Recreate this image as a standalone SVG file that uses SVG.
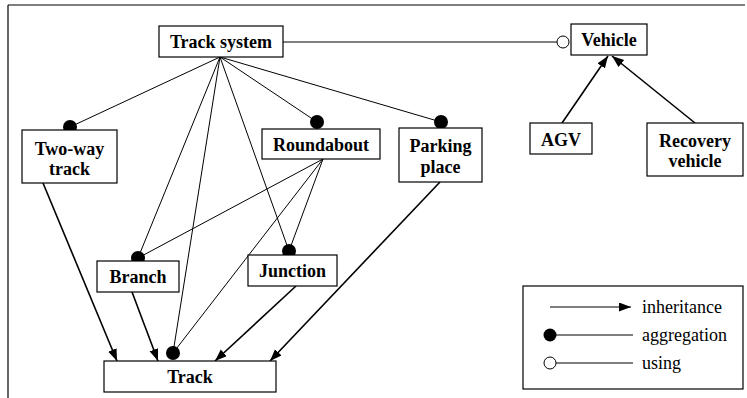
<svg xmlns="http://www.w3.org/2000/svg" width="747" height="398" viewBox="0 0 747 398">
<style>
.box{fill:#fff;stroke:#000;stroke-width:1.2}
text{font-family:'Liberation Serif','Times New Roman',Times,'DejaVu Serif',serif}
.lbl{font-weight:bold;font-size:18px;text-anchor:middle;fill:#000}
.leg{font-size:18px;fill:#000}
.agg{stroke:#000;stroke-width:1;fill:none}
.inh{stroke:#000;stroke-width:1.6;fill:none;marker-end:url(#arr)}
.dot{fill:#000}
.ring{fill:#fff;stroke:#000;stroke-width:1}
</style>
<defs>
<marker id="arr" markerUnits="userSpaceOnUse" markerWidth="13" markerHeight="10" refX="12" refY="4.5" orient="auto">
<path d="M0,0 L12,4.5 L0,9 z" fill="#000"/>
</marker>
</defs>
<rect width="747" height="398" fill="#fff"/>
<g id="frame" stroke="#000" stroke-width="1.2">
<line x1="8" y1="5" x2="745" y2="5"/>
<line x1="8" y1="5" x2="8" y2="398"/>
</g>
<g id="connectors">
<line class="agg" x1="283" y1="42" x2="557" y2="42"/>
<line class="agg" x1="220" y1="57" x2="70" y2="127"/>
<line class="agg" x1="220" y1="57" x2="317" y2="122"/>
<line class="agg" x1="220" y1="57" x2="441" y2="122"/>
<line class="agg" x1="220" y1="57" x2="138" y2="258"/>
<line class="agg" x1="220" y1="57" x2="173" y2="353"/>
<line class="agg" x1="220" y1="57" x2="289" y2="251"/>
<line class="agg" x1="323" y1="159" x2="138" y2="258"/>
<line class="agg" x1="323" y1="159" x2="173" y2="353"/>
<line class="agg" x1="323" y1="159" x2="289" y2="251"/>
<line class="inh" x1="43" y1="183" x2="117" y2="361"/>
<line class="inh" x1="132" y1="292" x2="158" y2="361"/>
<line class="inh" x1="296" y1="286" x2="215" y2="361"/>
<line class="inh" x1="440" y1="182" x2="270" y2="361"/>
<line class="inh" x1="562" y1="123" x2="608" y2="56"/>
<line class="inh" x1="695" y1="123" x2="612" y2="56"/>
<circle class="ring" cx="563" cy="42" r="6"/>
<circle class="dot" cx="70" cy="127" r="7"/>
<circle class="dot" cx="317" cy="122" r="7"/>
<circle class="dot" cx="441" cy="122" r="7"/>
<circle class="dot" cx="138" cy="258" r="7"/>
<circle class="dot" cx="289" cy="251" r="7"/>
<circle class="dot" cx="173" cy="353" r="7"/>
</g>
<g id="track-system"><rect class="box" x="159" y="26" width="124" height="31"/><text class="lbl" x="221" y="48">Track system</text></g>
<g id="vehicle"><rect class="box" x="571" y="24" width="76" height="31"/><text class="lbl" x="609" y="46">Vehicle</text></g>
<g id="agv"><rect class="box" x="530" y="123" width="62" height="31"/><text class="lbl" x="561" y="146">AGV</text></g>
<g id="recovery-vehicle"><rect class="box" x="647" y="123" width="96" height="53"/><text class="lbl" x="695" y="147">Recovery</text><text class="lbl" x="695" y="167">vehicle</text></g>
<g id="two-way-track"><rect class="box" x="22" y="130" width="95" height="53"/><text class="lbl" x="69.5" y="155">Two-way</text><text class="lbl" x="69.5" y="175">track</text></g>
<g id="roundabout"><rect class="box" x="262" y="129" width="118" height="30"/><text class="lbl" x="321" y="151">Roundabout</text></g>
<g id="parking-place"><rect class="box" x="399" y="128" width="83" height="54"/><text class="lbl" x="440.5" y="152">Parking</text><text class="lbl" x="440.5" y="173">place</text></g>
<g id="branch"><rect class="box" x="97" y="261" width="82" height="31"/><text class="lbl" x="138" y="283">Branch</text></g>
<g id="junction"><rect class="box" x="248" y="255" width="89" height="31"/><text class="lbl" x="292.5" y="277">Junction</text></g>
<g id="track"><rect class="box" x="104" y="361" width="172" height="31"/><text class="lbl" x="190" y="383">Track</text></g>
<g id="legend">
<rect class="box" x="523" y="286" width="220" height="103"/>
<line class="inh" style="stroke-width:1.2" x1="550" y1="307" x2="631" y2="307"/>
<text class="leg" x="642" y="313">inheritance</text>
<line class="agg" x1="550" y1="335" x2="633" y2="335"/>
<circle class="dot" cx="550" cy="335" r="6.5"/>
<text class="leg" x="642" y="341">aggregation</text>
<line class="agg" x1="556" y1="363" x2="633" y2="363"/>
<circle class="ring" cx="550" cy="363" r="6"/>
<text class="leg" x="642" y="369">using</text>
</g>
</svg>
